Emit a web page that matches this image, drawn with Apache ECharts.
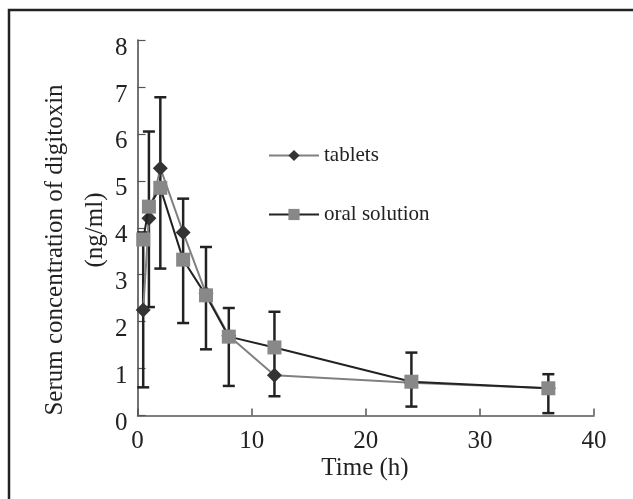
<!DOCTYPE html>
<html>
<head>
<meta charset="utf-8">
<script src="https://cdn.jsdelivr.net/npm/echarts@6/dist/echarts.min.js"></script>
<style>
  html, body { margin: 0; padding: 0; background: #fff; }
  #chart { width: 633px; height: 499px; }
</style>
</head>
<body>
<div id="chart"></div>
<script>
// sampling times (h)
var times = [0.5, 1, 2, 4, 6, 8, 12, 24, 36];
// mean serum concentration (ng/ml)
var tablets = [2.25, 4.2, 5.27, 3.9, 2.6, 1.7, 0.86, 0.7, 0.58];
var oralSolution = [3.75, 4.45, 4.85, 3.32, 2.56, 1.68, 1.45, 0.72, 0.58];
// error bar ends
var errLow = [0.6, 2.31, 3.13, 1.97, 1.41, 0.63, 0.41, 0.19, 0.05];
var errHigh = [3.9, 6.05, 6.78, 4.62, 3.59, 2.29, 2.21, 1.34, 0.88];

var font = "Liberation Serif";
var ink = "#222";

var chart = echarts.init(document.getElementById("chart"));

var option = {
  backgroundColor: "#fff",
  animation: false,
  textStyle: { fontFamily: font, color: ink },
  grid: { left: 137.5, right: 39, top: 40, bottom: 83.5 },
  legend: {
    orient: "vertical",
    left: 268,
    top: 145,
    padding: 0,
    itemWidth: 50,
    itemHeight: 14,
    itemGap: 38,
    textStyle: { fontFamily: font, fontSize: 21, color: ink },
    data: ["tablets", "oral solution"]
  },
  xAxis: {
    type: "value",
    min: 0,
    max: 40,
    interval: 10,
    splitLine: { show: false },
    axisLine: { lineStyle: { color: "#555", width: 1.5 } },
    axisTick: { inside: true, length: 7, lineStyle: { color: "#555", width: 1.5 } },
    axisLabel: { margin: 13, fontSize: 25, color: ink, fontFamily: font }
  },
  yAxis: {
    type: "value",
    min: 0,
    max: 8,
    interval: 1,
    splitLine: { show: false },
    axisLine: { show: true, lineStyle: { color: "#444", width: 1.5 } },
    axisTick: { show: true, inside: true, length: 8, lineStyle: { color: "#555", width: 1.2 } },
    axisLabel: {
      margin: 10, fontSize: 25, color: ink, fontFamily: font,
      verticalAlign: "top", lineHeight: 16
    }
  },
  graphic: [
    {
      type: "polyline",
      shape: { points: [[9, 499], [9, 10], [633, 10]] },
      style: { stroke: ink, lineWidth: 2.5, fill: null }
    },
    {
      type: "text",
      x: 55,
      y: 250,
      rotation: Math.PI / 2,
      style: {
        text: "Serum concentration of digitoxin",
        font: "25px " + font,
        fill: ink,
        textAlign: "center",
        textVerticalAlign: "middle"
      }
    },
    {
      type: "text",
      x: 95,
      y: 230,
      rotation: Math.PI / 2,
      style: {
        text: "(ng/ml)",
        font: "25px " + font,
        fill: ink,
        textAlign: "center",
        textVerticalAlign: "middle"
      }
    },
    {
      type: "text",
      x: 365,
      y: 468,
      style: {
        text: "Time (h)",
        font: "25px " + font,
        fill: ink,
        textAlign: "center",
        textVerticalAlign: "middle"
      }
    }
  ],
  series: [
    {
      name: "error",
      type: "custom",
      z: 1,
      data: times.map(function (t, i) { return [t, errLow[i], errHigh[i]]; }),
      renderItem: function (params, api) {
        var lo = api.coord([api.value(0), api.value(1)]);
        var hi = api.coord([api.value(0), api.value(2)]);
        var w = 6;
        var st = { stroke: ink, lineWidth: 2.5 };
        return {
          type: "group",
          children: [
            { type: "line", shape: { x1: lo[0], y1: lo[1], x2: hi[0], y2: hi[1] }, style: st },
            { type: "line", shape: { x1: lo[0] - w, y1: lo[1], x2: lo[0] + w, y2: lo[1] }, style: st },
            { type: "line", shape: { x1: hi[0] - w, y1: hi[1], x2: hi[0] + w, y2: hi[1] }, style: st }
          ]
        };
      }
    },
    {
      name: "tablets",
      type: "line",
      z: 3,
      data: times.map(function (t, i) { return [t, tablets[i]]; }),
      symbol: "diamond",
      symbolSize: 15,
      lineStyle: { color: "#808080", width: 2 },
      itemStyle: { color: "#333" }
    },
    {
      name: "oral solution",
      type: "line",
      z: 4,
      data: times.map(function (t, i) { return [t, oralSolution[i]]; }),
      symbol: "rect",
      symbolSize: 14,
      lineStyle: { color: "#222", width: 2 },
      itemStyle: { color: "#888" }
    }
  ]
};

chart.setOption(option);
window.onresize = function () {
  chart.resize();
};
</script>
</body>
</html>
